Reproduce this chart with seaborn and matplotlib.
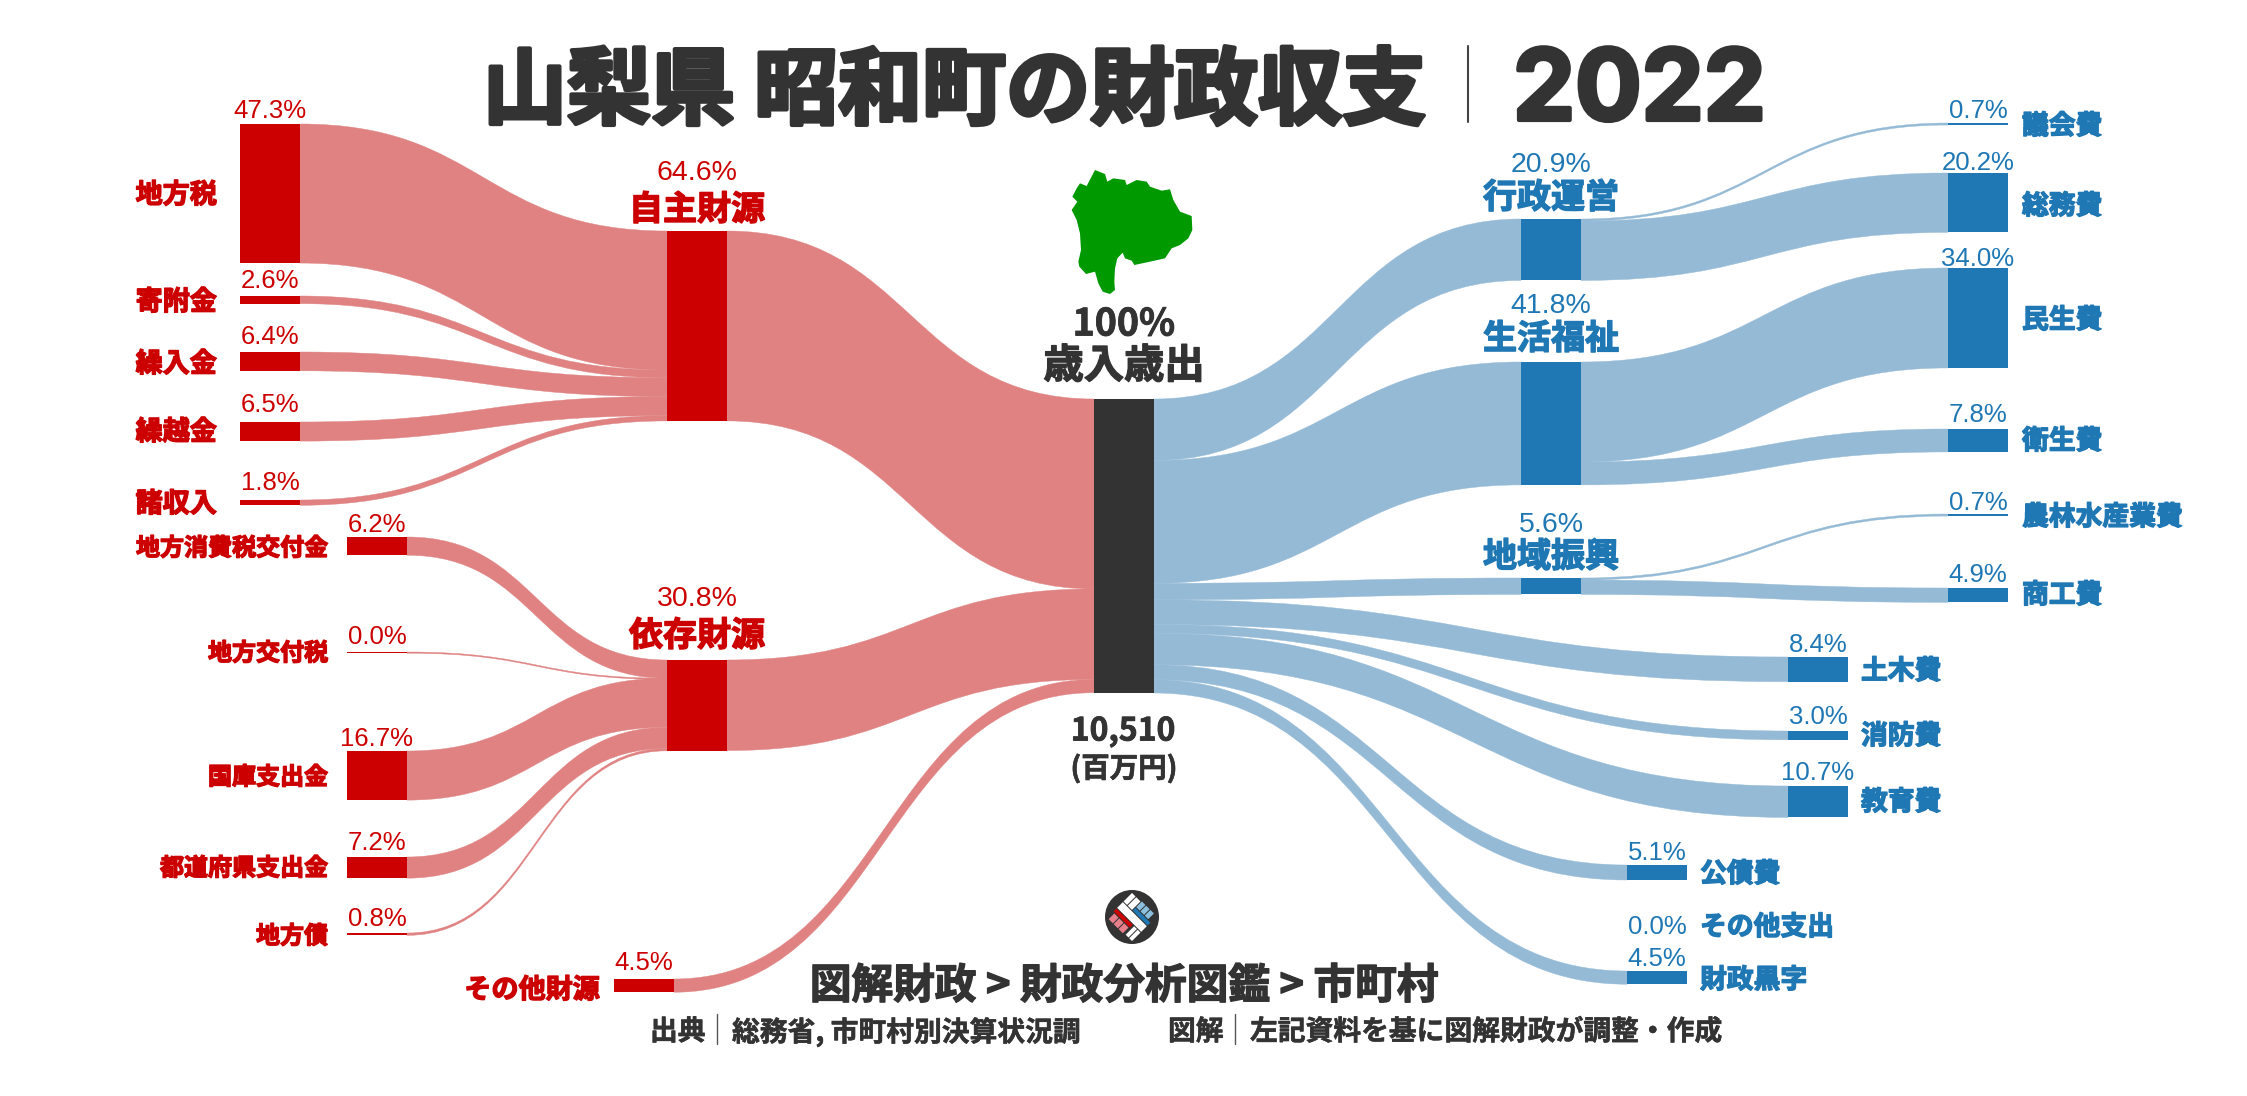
import matplotlib
matplotlib.use("Agg")
import matplotlib.pyplot as plt
import matplotlib.patheffects as pe
from matplotlib.path import Path
from matplotlib.patches import PathPatch, Polygon, Circle
import numpy as np
import pandas as pd
import seaborn as sns

# --- values (share of total, %) ---
own_names = ["地方税", "寄附金", "繰入金", "繰越金", "諸収入"]
own_values = [47.3, 2.6, 6.4, 6.5, 1.8]
dep_names = ["地方消費税交付金", "地方交付税", "国庫支出金", "都道府県支出金", "地方債"]
dep_values = [6.2, 0.0, 16.7, 7.2, 0.8]
group_names = ["自主財源", "依存財源", "その他財源"]
group_values = [64.6, 30.8, 4.5]
admin_names = ["議会費", "総務費"]
admin_values = [0.7, 20.2]
welfare_names = ["民生費", "衛生費"]
welfare_values = [34.0, 7.8]
region_names = ["農林水産業費", "商工費"]
region_values = [0.7, 4.9]
out_group_names = ["行政運営", "生活福祉", "地域振興"]
out_group_values = [20.9, 41.8, 5.6]
other_names = ["土木費", "消防費", "教育費", "公債費", "その他支出", "財政黒字"]
other_values = [8.4, 3.0, 10.7, 5.1, 0.0, 4.5]
total_label = "10,510"

# --- layout, in pixels of the output image ---
W, H = 2247, 1096
PX = 2.94
NODE_W = 60
CENTER_X, CENTER_TOP = 1094, 399
own_x, own_tops = 240, [124, 296, 352, 422, 500]
dep_x, dep_tops = 347, [537, 652, 751, 857, 933]
own_group_x, group_tops = 667, [231, 660]
rest_x, rest_top = 614, 979
mid_x, mid_tops = 1521, [219, 362, 578]
right_x = 1948
admin_tops = [123, 173]
welfare_tops = [268, 429]
region_tops = [514, 588]
other_x = [1788, 1788, 1788, 1627, 1627, 1627]
other_tops = [657, 731, 786, 865, 960, 971]

RED, BLUE, DARK, GREEN = "#CC0000", "#1F77B4", "#333333", "#009900"
RED_FLOW, BLUE_FLOW = "#E08282", "#94BAD6"
SANS = ["Liberation Sans", "DejaVu Sans"]
CJK = ["Noto Sans CJK JP", "DejaVu Sans"]

MAP_OUTLINE = [(345, 60), (375, 72), (382, 95), (400, 85), (435, 90), (440, 105), (470, 90), (500, 95),
               (510, 110), (545, 122), (570, 118), (580, 150), (600, 185), (635, 198), (637, 240), (625, 265),
               (600, 285), (575, 295), (555, 325), (510, 335), (463, 345), (455, 332), (435, 325), (428, 308),
               (412, 325), (405, 355), (403, 395), (405, 420), (390, 432), (368, 425), (355, 400), (345, 365),
               (318, 372), (298, 350), (295, 335), (303, 300), (300, 250), (290, 210), (275, 180), (292, 155),
               (277, 140), (290, 115), (300, 100), (320, 108)]

sns.set_theme(style="white")
plt.rcParams["font.family"] = CJK

fig = plt.figure(figsize=(W / 100, H / 100), dpi=100)
ax = fig.add_axes([0, 0, 1, 1])
ax.set_axis_off()


def thick(value):
    return max(value * PX, 1.2)


def node(x, top, value, color):
    df = pd.DataFrame({"x": [x + NODE_W / 2], "h": [thick(value)]})
    sns.barplot(data=df, x="x", y="h", native_scale=True, width=NODE_W, color=color, saturation=1,
                bottom=top, errorbar=None, linewidth=0, ax=ax)


def flow(x0, y0, x1, y1, value, color):
    t = thick(value)
    xm = (x0 + x1) / 2
    verts = [(x0, y0), (xm, y0), (xm, y1), (x1, y1), (x1, y1 + t), (xm, y1 + t), (xm, y0 + t), (x0, y0 + t), (x0, y0)]
    codes = [Path.MOVETO, Path.CURVE4, Path.CURVE4, Path.CURVE4, Path.LINETO,
             Path.CURVE4, Path.CURVE4, Path.CURVE4, Path.CLOSEPOLY]
    ax.add_patch(PathPatch(Path(verts, codes), fc=color, ec=color, lw=0.3, zorder=1))


def merge(xs, tops, values, x1, top1, color):
    # several sources stacked into one node on the right
    y = top1
    for x, t, v in zip(xs, tops, values):
        flow(x + NODE_W, t, x1, y, v, color)
        y += v * PX


def split(x0, top0, xs, tops, values, color):
    # one node on the left stacked out to several targets
    y = top0
    for x, t, v in zip(xs, tops, values):
        if v > 0:
            flow(x0 + NODE_W, y, x, t, v, color)
        y += v * PX


merge([own_x] * 5, own_tops, own_values, own_group_x, group_tops[0], RED_FLOW)
merge([dep_x] * 5, dep_tops, dep_values, own_group_x, group_tops[1], RED_FLOW)
merge([own_group_x, own_group_x, rest_x], group_tops + [rest_top], group_values, CENTER_X, CENTER_TOP, RED_FLOW)

out_xs = [mid_x] * 3 + other_x
out_tops = mid_tops + other_tops
out_vals = out_group_values + other_values
split(CENTER_X, CENTER_TOP, out_xs, out_tops, out_vals, BLUE_FLOW)
split(mid_x, mid_tops[0], [right_x] * 2, admin_tops, admin_values, BLUE_FLOW)
split(mid_x, mid_tops[1], [right_x] * 2, welfare_tops, welfare_values, BLUE_FLOW)
split(mid_x, mid_tops[2], [right_x] * 2, region_tops, region_values, BLUE_FLOW)

for t, v in zip(own_tops, own_values):
    node(own_x, t, v, RED)
for t, v in zip(dep_tops, dep_values):
    node(dep_x, t, v, RED)
for t, v in zip(group_tops, group_values):
    node(own_group_x, t, v, RED)
node(rest_x, rest_top, group_values[2], RED)
node(CENTER_X, CENTER_TOP, 100, DARK)
for t, v in zip(mid_tops, out_group_values):
    node(mid_x, t, v, BLUE)
for t, v in zip(admin_tops + welfare_tops + region_tops, admin_values + welfare_values + region_values):
    node(right_x, t, v, BLUE)
for x, t, v in zip(other_x, other_tops, other_values):
    if v > 0:
        node(x, t, v, BLUE)

ax.set_xlim(0, W)
ax.set_ylim(H, 0)
ax.set_axis_off()


def label(x, y, s, size, color, ha="center", fat=0.0, family=CJK):
    txt = ax.text(x, y, s, fontsize=size, color=color, ha=ha, va="center_baseline", family=family, fontweight="bold", zorder=5)
    if fat:
        txt.set_path_effects([pe.withStroke(linewidth=fat, foreground=color)])
    return txt


def pct(x, y, value, size, color):
    ax.text(x, y, f"{value:.1f}%", fontsize=size, color=color, ha="center", va="center_baseline", family=SANS, zorder=5)


# left side
for name, v, ly, py in zip(own_names, own_values, [192, 299, 361, 429, 501], [108, 279, 335, 403, 481]):
    label(217, ly, name, 19.5, RED, ha="right", fat=1.0)
    pct(own_x + NODE_W / 2, py, v, 18.5, RED)
for name, v, ly, py in zip(dep_names, dep_values, [546, 651, 775, 866, 934], [522, 634, 736, 840, 917]):
    label(328, ly, name, 17.3, RED, ha="right", fat=1.0)
    pct(dep_x + NODE_W / 2, py, v, 18.5, RED)
for name, v, ly, py in zip(group_names[:2], group_values[:2], [206, 632], [170, 596]):
    label(own_group_x + NODE_W / 2, ly, name, 24.5, RED, fat=1.0)
    pct(own_group_x + NODE_W / 2, py, v, 20.5, RED)
label(600, 987, group_names[2], 19.5, RED, ha="right", fat=1.0)
pct(rest_x + NODE_W / 2, 961, group_values[2], 18.5, RED)

# right side
for name, v, ly, py in zip(out_group_names, out_group_values, [194, 335, 553], [162, 303, 522]):
    label(mid_x + NODE_W / 2, ly, name, 24.5, BLUE, fat=1.0)
    pct(mid_x + NODE_W / 2, py, v, 20.5, BLUE)
right_names = admin_names + welfare_names + region_names
right_values = admin_values + welfare_values + region_values
for name, v, ly, py in zip(right_names, right_values, [123, 203, 317, 438, 514, 592], [109, 161, 256, 413, 501, 573]):
    label(2022, ly, name, 19.3, BLUE, ha="left", fat=1.0)
    pct(right_x + NODE_W / 2, py, v, 18.5, BLUE)
for name, v, x, ly, py in zip(other_names, other_values, other_x, [668, 733, 799, 871, 924, 977], [643, 715, 770, 850, 924, 956]):
    label(x + NODE_W + 13, ly, name, 19.3, BLUE, ha="left", fat=1.0)
    pct(x + NODE_W / 2, py, v, 18.5, BLUE)

# centre
ax.add_patch(Polygon([(980 + x / 3, 150 + y / 3) for x, y in MAP_OUTLINE], closed=True, fc=GREEN, ec="none", zorder=3))
label(1124, 320, "100%", 27, DARK, fat=0.6)
label(1124, 362, "歳入歳出", 29, DARK, fat=1.0)
label(1123, 728, total_label, 23, DARK, fat=0.6)
label(1124, 766, "(百万円)", 20.5, DARK, fat=0.5)

# title
label(1426, 84, "山梨県 昭和町の財政収支", 60.5, DARK, ha="right", fat=3.0)
ax.plot([1468, 1468], [46, 122], color="#444444", lw=1.5)
label(1513, 84, "2022", 71, DARK, ha="left", fat=3.0, family=["Inter", "Liberation Sans"])

# logo: an X of white blocks with red and blue panels either side
ax.add_patch(Circle((1132, 917), 27, fc=DARK, ec="none", zorder=3))


def logo_block(u0, u1, v0, v1, color):
    pts = [(u0, v0), (u1, v0), (u1, v1), (u0, v1)]
    s = np.sqrt(0.5)
    xy = [(1132 + (u + v) * s, 917 + (u - v) * s) for u, v in pts]
    ax.add_patch(Polygon(xy, closed=True, fc=color, ec="none", zorder=4))


for box in [(-17, 17, -4, 4), (-17, -12, 5, 17), (-11, -5, 5, 17), (8, 12, -17, -5), (13, 17, -17, -5)]:
    logo_block(*box, "white")
logo_block(-17, 6, -9, -5, RED)
for u0 in [-15, -8, -1]:
    logo_block(u0, u0 + 6, -18, -10, "#E8808C")
logo_block(-4, 17, 5, 9, BLUE)
for u0 in [-4, 2, 8]:
    logo_block(u0, u0 + 5, 10, 18, "#8CC0E0")

# footer
label(1124, 982, "図解財政 > 財政分析図鑑 > 市町村", 30, DARK, fat=1.0)
label(650, 1029, "出典", 20, DARK, ha="left", fat=0.4)
ax.plot([717, 717], [1014, 1044], color="#555555", lw=1)
label(732, 1029, "総務省, 市町村別決算状況調", 20, DARK, ha="left", fat=0.4)
label(1168, 1029, "図解", 20, DARK, ha="left", fat=0.4)
ax.plot([1235, 1235], [1014, 1044], color="#555555", lw=1)
label(1250, 1029, "左記資料を基に図解財政が調整・作成", 20, DARK, ha="left", fat=0.4)

fig.savefig("out.png", dpi=100, facecolor="white")
